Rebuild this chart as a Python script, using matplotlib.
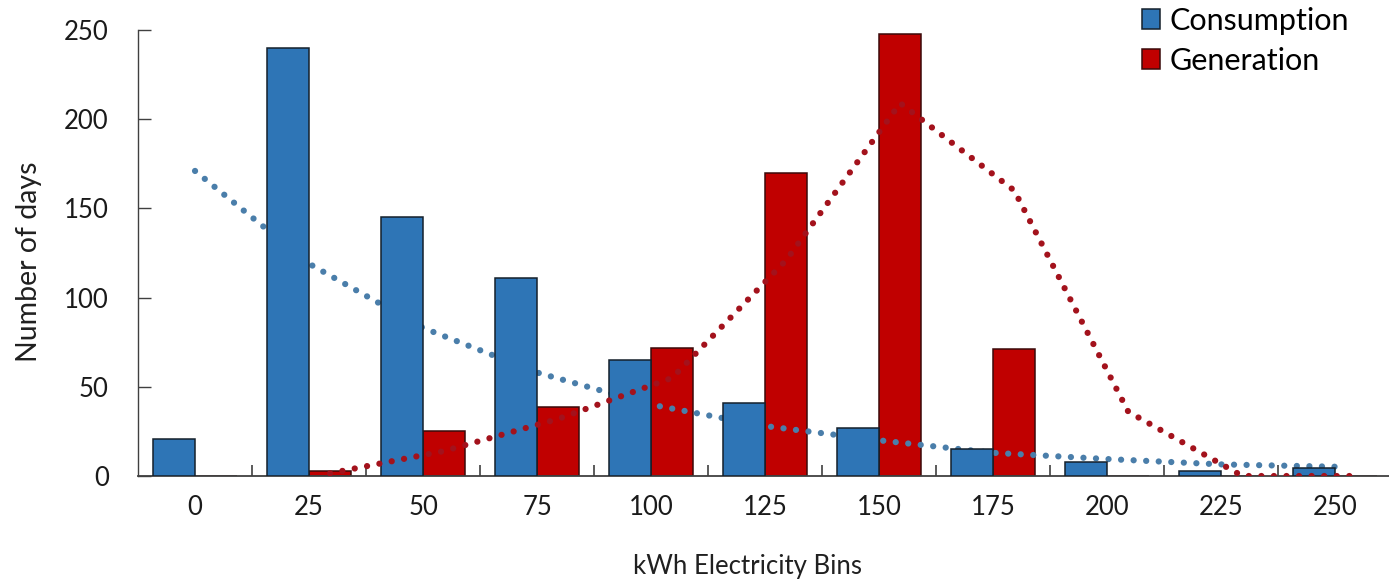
import matplotlib
matplotlib.use("Agg")
import matplotlib.pyplot as plt
import numpy as np

# bins (kWh) and day counts
bins = ["0", "25", "50", "75", "100", "125", "150", "175", "200", "225", "250"]
consumption = [21, 240, 145, 111, 65, 41, 27, 15, 8, 3, 4.5]
generation = [0, 3, 25, 38.5, 72, 170, 248, 71, 0, 0, 0]

# dotted trend lines as they appear in the picture
consumption_trend = [171, 119, 83, 58, 40, 28, 20, 13, 9.5, 6.5, 5.2]
generation_trend_idx = [1, 2, 3, 4, 5, 6, 7, 8, 9, 10]
generation_trend = [1.5, 14, 32, 55, 121, 209, 160, 36, 0, 0]

BLUE = "#2e75b6"
RED = "#c00000"
BLUE_DOT = "#4a7eaa"
RED_DOT = "#a3121c"

plt.rcParams["font.family"] = ["Lato", "DejaVu Sans"]
plt.rcParams["font.size"] = 18.5

fig = plt.figure(figsize=(13.89, 5.81), dpi=100)
ax = fig.add_axes([138 / 1389, 105 / 581, 1 - 138 / 1389, 446 / 581])

x = np.arange(len(bins))
width = 0.368

b1 = ax.bar(x - width / 2, consumption, width, color=BLUE, edgecolor="#15202b",
            linewidth=1.1, label="Consumption", zorder=4)
b2 = ax.bar(x + width / 2, generation, width, color=RED, edgecolor="#3a0a0a",
            linewidth=1.1, label="Generation", zorder=2)

dots = (0, (0.01, 2.0))
ax.plot(x, consumption_trend, color=BLUE_DOT, lw=4.5, linestyle=dots,
        dash_capstyle="round", zorder=3)
ax.plot(np.array(generation_trend_idx) + width / 2, generation_trend, color=RED_DOT,
        lw=4.5, linestyle=dots, dash_capstyle="round", zorder=5)

ax.set_xlim(-0.5, 10.47)
ax.set_ylim(0, 250)
ax.set_yticks([0, 50, 100, 150, 200, 250])
ax.set_xticks(x)
ax.set_xticklabels(bins)
ax.set_xticks(x[:-1] + 0.5, minor=True)
ax.tick_params(axis="x", which="major", length=0, pad=14)
ax.tick_params(axis="x", which="minor", direction="in", length=8, width=1.2, color="#404040")
ax.tick_params(axis="y", direction="in", length=9, width=1.0, color="#404040", pad=21)
ax.tick_params(labelcolor="#1a1a1a")

for side in ["top", "right"]:
    ax.spines[side].set_visible(False)
ax.spines["left"].set_color("#404040")
ax.spines["bottom"].set_color("#404040")
ax.spines["left"].set_linewidth(1.0)
ax.spines["bottom"].set_linewidth(1.3)

ax.set_xlabel("kWh Electricity Bins", color="#202020", fontsize=18.5)
ax.set_ylabel("Number of days", color="#202020", fontsize=20.5)
ax.xaxis.set_label_coords(0.487, -0.175)
ax.yaxis.set_label_coords(-0.077, 0.48)

fig.legend(handles=[b1, b2], loc="upper left", bbox_to_anchor=(1142 / 1389, 0.988),
           frameon=False, borderpad=0, handlelength=0.6, handleheight=0.6,
           handletextpad=0.3, labelspacing=0.38, borderaxespad=0, fontsize=22)

fig.savefig("out.png", dpi=100)
